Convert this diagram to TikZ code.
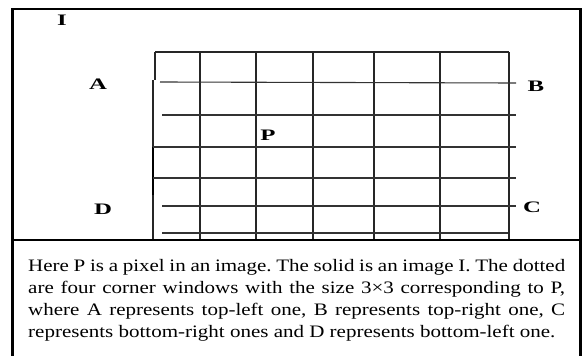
\documentclass[tikz,border=0pt]{standalone}
\usepackage{fontspec}
\setmainfont{Liberation Serif}[FakeStretch=1.2]
\newfontfamily\lblfont{Liberation Serif}[FakeStretch=1.55]
\tikzset{
  lbl/.style={font=\lblfont\fontsize{16}{18}\selectfont\bfseries, inner sep=0pt},
  frame/.style={line width=2.5pt, black},
  gridv/.style={line width=1.3pt, black!85},
  gridh/.style={line width=1.1pt, black!80},
}
\begin{document}
\begin{tikzpicture}[x=1pt,y=-1pt]
\useasboundingbox (0,0) rectangle (582,356);
% outer frame
\draw[frame] (12.5,357) -- (12.5,9) -- (580.5,9) -- (580.5,357);
\draw[line width=2pt] (12.5,239.5) -- (580.5,239.5);
% image I grid: verticals
\foreach \x in {200,256,313,374,440,509} \draw[gridv] (\x,52) -- (\x,238.5);
\draw[gridv] (155,52) -- (155,80);
\draw[gridv] (153,80) -- (153,238.5);
\draw[line width=2.6pt] (153,147) -- (153,195);
% top boundary
\draw[gridv] (155,52) -- (509,52);
% window lines
\draw[gridh] (160,82) -- (516,83);
\draw[gridh] (162,115) -- (516,115);
\draw[gridh] (153,147) -- (516,147);
\draw[gridh] (153,178) -- (516,178);
\draw[gridh] (162,206) -- (516,206);
\draw[gridh] (162,233) -- (508,233);
% labels
\node[lbl] (I) at (62,20) {I};
\node[lbl] (A) at (98,84) {A};
\node[lbl] (B) at (536,86) {B};
\node[lbl] (C) at (532,207) {C};
\node[lbl] (D) at (103,209) {D};
\node[lbl] (P) at (268,135) {P};
% caption
\node[anchor=north west, inner sep=0pt, text width=537pt, align=justify,
      font=\fontsize{17.5}{22}\selectfont\frenchspacing] (cap) at (28,259.5)
{Here P is a pixel in an image. The solid is an image I. The dotted are four corner windows with the size 3\texttimes3 corresponding to P, where A represents top-left one, B represents top-right one, C represents bottom-right ones and D represents bottom-left one.};
\end{tikzpicture}
\end{document}
